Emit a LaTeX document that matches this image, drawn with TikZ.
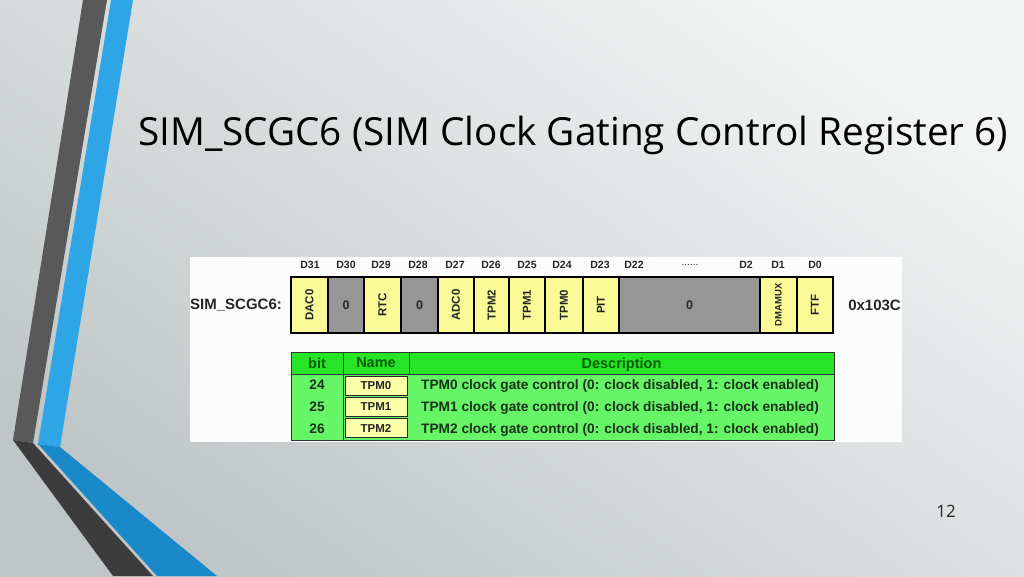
\documentclass[tikz,border=0pt]{standalone}
\usepackage{fontspec}
\setmainfont{Open Sans}
\newfontfamily\arl{Liberation Sans}
\usetikzlibrary{positioning}
\definecolor{bgdark}{RGB}{192,198,199}
\definecolor{bglight}{RGB}{242,244,244}
\definecolor{grayup}{RGB}{89,89,89}
\definecolor{graylow}{RGB}{60,60,60}
\definecolor{blueup}{RGB}{46,165,228}
\definecolor{bluelow}{RGB}{26,137,202}
\definecolor{cellyellow}{RGB}{250,250,150}
\definecolor{namey}{RGB}{255,255,170}
\definecolor{cellgray}{RGB}{150,150,150}
\definecolor{hdrgreen}{RGB}{40,228,40}
\definecolor{bodygreen}{RGB}{102,245,102}
\definecolor{hdrtext}{RGB}{0,95,0}
\definecolor{rowtext}{RGB}{25,50,25}
\begin{document}
\begin{tikzpicture}[x=1pt,y=-1pt,
  regcell/.style={draw=black, line width=1.4pt, minimum height=56pt, inner sep=0pt, outer sep=0pt,
    font=\arl\bfseries\fontsize{11.5}{11.5}\selectfont, text=black!85},
  ycell/.style={regcell, fill=cellyellow},
  gcell/.style={regcell, fill=cellgray, font=\arl\bfseries\fontsize{12.5}{12.5}\selectfont},
  bitlbl/.style={font=\arl\bfseries\fontsize{10.5}{10.5}\selectfont, text=black!85, inner sep=0pt},
  bigl/.style={font=\arl\bfseries\fontsize{15}{15}\selectfont, text=black!85, inner sep=0pt},
  hdr/.style={draw=black!80, line width=0.9pt, fill=hdrgreen, minimum height=22pt, inner sep=0pt, outer sep=0pt,
    text depth=0pt, font=\arl\bfseries\fontsize{14.5}{14.5}\selectfont, text=hdrtext},
  tbody/.style={draw=black!80, line width=0.9pt, fill=bodygreen, inner sep=0pt, outer sep=0pt},
  namebox/.style={draw=black!85, line width=0.9pt, fill=namey, minimum width=62pt, minimum height=19pt, inner sep=0pt,
    font=\arl\bfseries\fontsize{11.5}{11.5}\selectfont, text=black!85},
  rowtxt/.style={font=\arl\bfseries\fontsize{13.7}{13.7}\selectfont, text=rowtext, inner sep=0pt, text depth=0pt}
]
\useasboundingbox (0,0) rectangle (1024,576);
% background
\shade[shading=axis, top color=bglight, bottom color=bgdark, shading angle=-35] (0,0) rectangle (1024,576);
% decorative stripes
\fill[grayup] (83,0) -- (107,0) -- (33,443) -- (13,440) -- cycle;
\fill[graylow] (13,440) -- (33,443) -- (153,576) -- (113,576) -- cycle;
\fill[blueup] (111,0) -- (133,0) -- (60,447) -- (38,444) -- cycle;
\fill[bluelow] (38,444) -- (60,447) -- (217,576) -- (157,576) -- cycle;
% title
\node[anchor=base west, inner sep=0pt] (title) at (138,145)
  {\resizebox{870pt}{!}{SIM\_SCGC6 (SIM Clock Gating Control Register 6)}};
% page number
\node[inner sep=0pt, font=\fontsize{17}{17}\selectfont, text=black!85] (pnum) at (946,511) {12};
% image background
\fill[white!99!black] (190,257) rectangle (902,442);
% register row
\node[bigl, anchor=west] (regname) at (190,305) {SIM\_SCGC6:};
\node[bigl, anchor=east] (regval) at (901,305) {0x103C};
\node[ycell, minimum width=37pt] (c31) at (309.5,305) {\rotatebox{90}{DAC0}};
\node[gcell, minimum width=36pt] (c30) at (346,305) {0};
\node[ycell, minimum width=37pt] (c29) at (382.5,305) {\rotatebox{90}{RTC}};
\node[gcell, minimum width=37pt] (c28) at (419.5,305) {0};
\node[ycell, minimum width=36pt] (c27) at (456,305) {\rotatebox{90}{ADC0}};
\node[ycell, minimum width=35pt] (c26) at (491.5,305) {\rotatebox{90}{TPM2}};
\node[ycell, minimum width=36pt] (c25) at (527,305) {\rotatebox{90}{TPM1}};
\node[ycell, minimum width=38pt] (c24) at (564,305) {\rotatebox{90}{TPM0}};
\node[ycell, minimum width=36pt] (c23) at (601,305) {\rotatebox{90}{PIT}};
\node[gcell, minimum width=141pt] (c22) at (689.5,305) {0};
\node[ycell, minimum width=37pt, font=\arl\bfseries\fontsize{9.5}{9.5}\selectfont] (c1) at (778.5,305) {\rotatebox{90}{DMAMUX}};
\node[ycell, minimum width=36pt] (c0) at (815,305) {\rotatebox{90}{FTF}};
% bit labels
\node[bitlbl] (l31) at (310,265) {D31};
\node[bitlbl] (l30) at (346,265) {D30};
\node[bitlbl] (l29) at (381,265) {D29};
\node[bitlbl] (l28) at (418,265) {D28};
\node[bitlbl] (l27) at (455,265) {D27};
\node[bitlbl] (l26) at (491,265) {D26};
\node[bitlbl] (l25) at (527,265) {D25};
\node[bitlbl] (l24) at (562,265) {D24};
\node[bitlbl] (l23) at (600,265) {D23};
\node[bitlbl] (l22) at (634,265) {D22};
\node[bitlbl, font=\arl\fontsize{10}{10}\selectfont] (ldots) at (690,265) {......};
\node[bitlbl] (l2) at (746,265) {D2};
\node[bitlbl] (l1) at (778,265) {D1};
\node[bitlbl] (l0) at (815,265) {D0};
% table
\node[tbody, minimum width=543pt, minimum height=66pt] (tb) at (562.5,407) {};
\node[hdr, minimum width=52pt] (hbit) at (317,363) {bit};
\node[hdr, minimum width=66pt] (hname) at (376,363) {Name};
\node[hdr, minimum width=425pt] (hdesc) at (621.5,363) {Description};
\draw[draw=black!80, line width=0.9pt] (hbit.south east) -- (hbit.south east |- tb.south);
\node[namebox] (n0) at (376,386) {TPM0};
\node[namebox] (n1) at (376,407) {TPM1};
\node[namebox] (n2) at (376,428) {TPM2};
\node[rowtxt] (b0) at (317,385) {24};
\node[rowtxt] (b1) at (317,407) {25};
\node[rowtxt] (b2) at (317,429) {26};
\node[rowtxt, anchor=west] (d0) at (421,385) {TPM0 clock gate control (0: clock disabled, 1: clock enabled)};
\node[rowtxt, anchor=west] (d1) at (421,407) {TPM1 clock gate control (0: clock disabled, 1: clock enabled)};
\node[rowtxt, anchor=west] (d2) at (421,429) {TPM2 clock gate control (0: clock disabled, 1: clock enabled)};
\end{tikzpicture}
\end{document}
